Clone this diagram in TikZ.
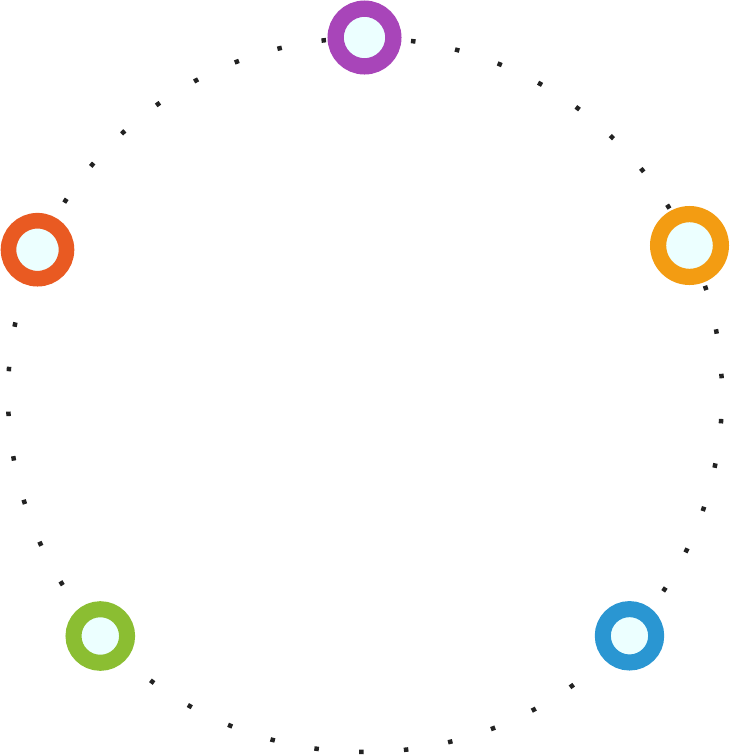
\documentclass[tikz,border=0pt]{standalone}
\usepackage{tikz}
\definecolor{cpurple}{RGB}{168,69,185}
\definecolor{corange}{RGB}{243,156,18}
\definecolor{cred}{RGB}{233,90,34}
\definecolor{cgreen}{RGB}{139,190,50}
\definecolor{cblue}{RGB}{42,150,210}
\definecolor{cinner}{RGB}{236,255,255}
\definecolor{cdot}{RGB}{34,34,34}
\begin{document}
\begin{tikzpicture}[x=1pt,y=-1pt,
  ring/.style={circle,inner sep=0pt,outer sep=0pt,fill=cinner},
  dotring/.style={draw=cdot,line width=4.5pt,dash pattern=on 4.5pt off 40.362pt,dash phase=20.94pt}]
\useasboundingbox (0,0) rectangle (730,756);
\coordinate (c) at (365,395);
\draw[dotring] (c) circle[radius=357];
\node[ring,draw=cpurple,line width=16.3pt,minimum size=57.7pt] (purple) at (364.5,37.5) {};
\node[ring,draw=corange,line width=16.2pt,minimum size=62.8pt] (orange) at (689.5,245.5) {};
\node[ring,draw=cred,line width=15.6pt,minimum size=58pt] (red) at (37.5,249.7) {};
\node[ring,draw=cgreen,line width=16pt,minimum size=53.6pt] (green) at (100.3,636) {};
\node[ring,draw=cblue,line width=16pt,minimum size=53.4pt] (blue) at (629.5,635.8) {};
\end{tikzpicture}
\end{document}
